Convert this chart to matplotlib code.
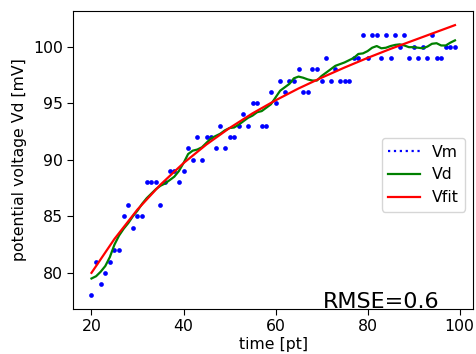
import matplotlib
matplotlib.use('Agg')
import matplotlib.pyplot as plt
from matplotlib.lines import Line2D

# ------------------------------------------------------------------
# data

time_pt = list(range(20, 100))

vm = [78, 81, 79, 80, 81, 82, 82, 85, 86, 84,
      85, 85, 88, 88, 88, 86, 88, 89, 89, 88,
      89, 91, 90, 92, 90, 92, 92, 91, 93, 91,
      92, 92, 93, 94, 93, 95, 95, 93, 93, 96,
      95, 97, 96, 97, 97, 98, 96, 96, 98, 98,
      97, 99, 97, 98, 97, 97, 97, 99, 99, 101,
      99, 101, 101, 99, 101, 99, 101, 100, 101, 99,
      100, 99, 100, 99, 101, 99, 99, 100, 100, 100]

vd = [79.5, 79.7, 80.1, 80.6, 81.4, 82.5, 83.3, 83.9, 84.4, 85.0,
      85.5, 86.1, 86.6, 87.0, 87.4, 87.7, 87.9, 88.2, 88.5, 89.0,
      89.7, 90.5, 90.8, 90.9, 91.1, 91.5, 91.9, 92.1, 92.3, 92.6,
      92.8, 92.85, 93.1, 93.4, 93.7, 93.9, 94.2, 94.3, 94.6, 94.9,
      95.5, 96.1, 96.4, 96.7, 97.2, 97.35, 97.25, 97.1, 97.0, 97.0,
      97.4, 97.7, 98.0, 98.3, 98.45, 98.6, 98.8, 99.0, 99.35, 99.4,
      99.6, 99.9, 100.05, 99.85, 99.9, 100.05, 100.15, 100.2, 100.1, 99.95,
      99.95, 99.9, 99.85, 100.0, 100.25, 100.3, 100.1, 100.1, 100.35, 100.55]

fit_t = [20, 25, 30, 35, 40, 45, 50, 55, 60, 65, 70, 75, 80, 85, 90, 95, 99]
vfit = [80.0, 83.0, 85.6, 87.8, 89.7, 91.35, 92.8, 94.1, 95.25,
        96.3, 97.25, 98.15, 99.0, 99.8, 100.55, 101.3, 101.9]

rmse_text = 'RMSE=0.6'

# ------------------------------------------------------------------
# plot

fs = 11.3
fig = plt.figure(figsize=(4.76, 3.54), dpi=100)
ax = fig.add_axes([0.154, 0.127, 0.840, 0.842])

ax.plot(time_pt, vm, 'o', color='blue', markersize=3.4, markeredgewidth=0)
ax.plot(time_pt, vd, color='green', linewidth=1.6)
ax.plot(fit_t, vfit, color='red', linewidth=1.6)

ax.set_xlim(16.05, 102.95)
ax.set_ylim(76.8, 103.15)
ax.set_xticks([20, 40, 60, 80, 100])
ax.set_yticks([80, 85, 90, 95, 100])
ax.tick_params(labelsize=fs, length=4)

ax.set_xlabel('time [pt]', fontsize=fs, labelpad=2)
ax.set_ylabel('potential voltage Vd [mV]', fontsize=fs, labelpad=4)

ax.text(70.3, 76.9, rmse_text, fontsize=16, va='baseline')

handles = [Line2D([], [], color='blue', linestyle=':', linewidth=1.6),
           Line2D([], [], color='green', linewidth=1.6),
           Line2D([], [], color='red', linewidth=1.6)]
ax.legend(handles, ['Vm', 'Vd', 'Vfit'], loc='center right',
          bbox_to_anchor=(1.0, 0.45), fontsize=fs)

fig.savefig('out.png', dpi=100)
